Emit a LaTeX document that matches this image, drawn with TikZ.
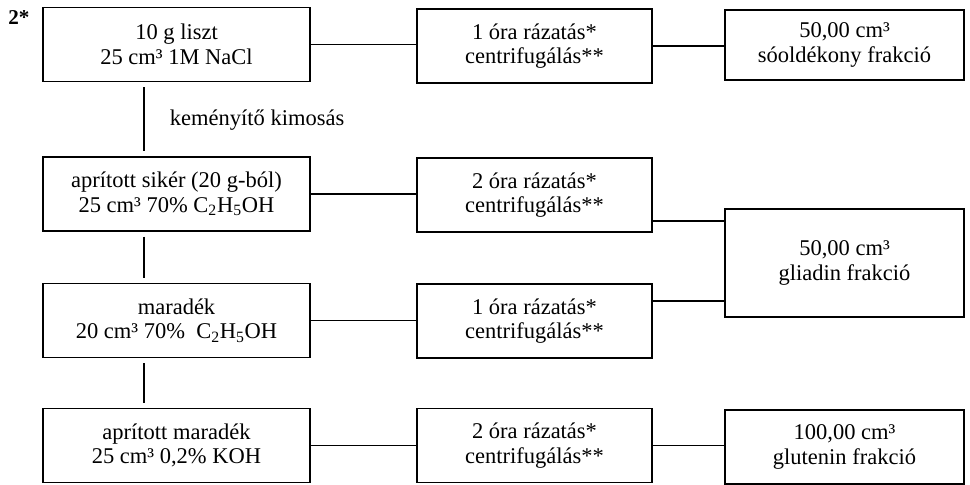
\documentclass[tikz,border=0pt]{standalone}
\usepackage{fontspec}
\setmainfont{Liberation Serif}
\usetikzlibrary{positioning,calc}

\tikzset{
  doboz/.style={draw, line width=1.3pt, align=center, inner sep=0pt,
    minimum height=1.85cm, font=\fontsize{16}{17.5}\selectfont},
  egyes/.style={doboz, minimum width=6.675cm},
  kettes/.style={doboz, minimum width=5.875cm},
  harmas/.style={doboz, minimum width=5.975cm},
  vonal/.style={line width=1.3pt},
}

\begin{document}
\begin{tikzpicture}[x=0.025cm, y=-0.025cm]
\useasboundingbox (0,0) rectangle (970,485);

\node[font=\bfseries\fontsize{15}{15}\selectfont] (jel) at (19,18) {2*};

% first column
\node[egyes] (liszt) at (176.5,44.5) {10 g liszt\\25 cm³ 1M NaCl};
\node[egyes] (siker) at (176.5,194) {aprított sikér (20 g-ból)\\25 cm³ 70\% C\textsubscript{2}H\textsubscript{5}OH};
\node[egyes] (maradek) at (176.5,320.5) {maradék\\20 cm³ 70\%~ C\textsubscript{2}H\textsubscript{5}OH};
\node[egyes] (aprmar) at (176.5,445.5) {aprított maradék\\25 cm³ 0,2\% KOH};

% second column
\node[kettes] (raz1) at (534.5,46) {1 óra rázatás*\\centrifugálás**};
\node[kettes] (raz2) at (534.5,195) {2 óra rázatás*\\centrifugálás**};
\node[kettes] (raz3) at (534.5,321) {1 óra rázatás*\\centrifugálás**};
\node[kettes] (raz4) at (534.5,445.5) {2 óra rázatás*\\centrifugálás**};

% fractions
\node[harmas, minimum height=1.75cm] (soold) at (844.5,45) {50,00 cm³\\sóoldékony frakció};
\node[harmas, minimum height=2.7cm] (gliadin) at (844.5,263) {50,00 cm³\\gliadin frakció};
\node[harmas] (glutenin) at (844.5,447) {100,00 cm³\\glutenin frakció};

\node[anchor=west, font=\fontsize{16}{17.5}\selectfont] (kimosas) at (165,120) {keményítő kimosás};

% connectors
\draw[vonal] (liszt.east) -- (liszt.east -| raz1.west);
\draw[vonal] (raz1.east) -- (raz1.east -| soold.west);
\draw[vonal] (siker.east) -- (siker.east -| raz2.west);
\draw[vonal] (maradek.east) -- (maradek.east -| raz3.west);
\draw[vonal] (aprmar.east) -- (aprmar.east -| raz4.west);
\draw[vonal] (raz4.east) -- (raz4.east -| glutenin.west);
\draw[vonal] ([yshift=-0.65cm]raz2.east) -- ([yshift=-0.65cm]raz2.east -| gliadin.west);
\draw[vonal] ([yshift=0.5cm]raz3.east) -- ([yshift=0.5cm]raz3.east -| gliadin.west);

\draw[vonal, shorten <=0.12cm, shorten >=0.12cm] ([xshift=2.55cm]liszt.south west) -- ([xshift=2.55cm]liszt.south west |- siker.north);
\draw[vonal, shorten <=0.12cm, shorten >=0.12cm] ([xshift=2.55cm]siker.south west) -- ([xshift=2.55cm]siker.south west |- maradek.north);
\draw[vonal, shorten <=0.12cm, shorten >=0.12cm] ([xshift=2.55cm]maradek.south west) -- ([xshift=2.55cm]maradek.south west |- aprmar.north);
\end{tikzpicture}
\end{document}
